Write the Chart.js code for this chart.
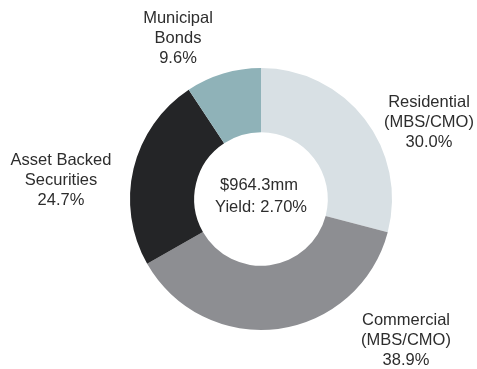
<!DOCTYPE html>
<html>
<head>
<meta charset="utf-8">
<script src="https://cdn.jsdelivr.net/npm/chart.js@4.4.0/dist/chart.umd.min.js"></script>
<style>
  body { margin: 0; background: #fff; }
  #wrap { width: 477px; height: 369px; position: relative; }
</style>
</head>
<body>
<div id="wrap"><canvas id="mixChart"></canvas></div>
<script>
const categories = [
  ['Residential', '(MBS/CMO)'],
  ['Commercial', '(MBS/CMO)'],
  ['Asset Backed', 'Securities'],
  ['Municipal', 'Bonds']
];
const shares = [30.0, 38.9, 24.7, 9.6];
const centerLines = ['$964.3mm', 'Yield: 2.70%'];

const sliceColors = ['#d8e0e4', '#8d8e92', '#242527', '#8fb2b8'];

// label offsets from the ring centre (middle line of each block)
const labelOffsets = [[168, -77], [145, 141], [-200, -19], [-83, -161]];

const textColor = '#2d2d2d';
const fontSpec = '16.5px "Liberation Sans", Arial, sans-serif';

// draws the total in the hole and the category labels round the ring
const ringLabels = {
  id: 'ringLabels',
  afterDraw(chart) {
    const ctx = chart.ctx;
    const arcs = chart.getDatasetMeta(0).data;
    if (!arcs.length) return;
    const cx = arcs[0].x;
    const cy = arcs[0].y;

    ctx.save();
    ctx.fillStyle = textColor;
    ctx.font = fontSpec;
    ctx.textAlign = 'center';
    ctx.textBaseline = 'middle';

    ctx.fillText(centerLines[0], cx - 2, cy - 14);
    ctx.fillText(centerLines[1], cx, cy + 8);

    categories.forEach((lines, i) => {
      const [dx, dy] = labelOffsets[i];
      const all = lines.concat([shares[i].toFixed(1) + '%']);
      all.forEach((t, j) => {
        ctx.fillText(t, cx + dx, cy + dy + (j - 1) * 20);
      });
    });
    ctx.restore();
  }
};

const ctx = document.getElementById('mixChart');

const data = {
  labels: categories.map(c => c.join(' ')),
  datasets: [{
    data: shares,
    backgroundColor: sliceColors,
    borderWidth: 0
  }]
};

const config = {
  type: 'doughnut',
  data: data,
  options: {
    responsive: true,
    maintainAspectRatio: false,
    animation: false,
    cutout: '51%',
    layout: {
      padding: { top: 68, bottom: 39, left: 45, right: 0 }
    },
    plugins: {
      legend: { display: false },
      tooltip: { enabled: false }
    }
  },
  plugins: [ringLabels]
};

new Chart(ctx, config);
</script>
</body>
</html>
